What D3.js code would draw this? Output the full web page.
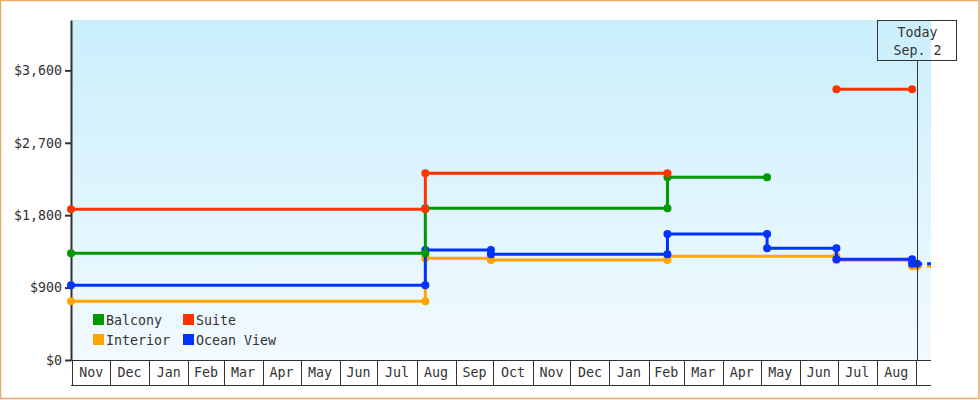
<!DOCTYPE html>
<html>
<head>
<meta charset="utf-8">
<script src="https://cdn.jsdelivr.net/npm/d3@7"></script>
<style>
  body { margin: 0; background: #fff; }
  text { font-family: "DejaVu Sans Mono", monospace; font-size: 13.3px; fill: #333; }
</style>
</head>
<body>
<div id="chart"></div>
<script>
// price history, one price per change date, null closes a run
const categories = ["Balcony", "Suite", "Interior", "Ocean View"];
const colors = ["#009900", "#ff3300", "#ffa500", "#0033ff"];

const balconyDates = ["2012-10-31", "2013-08-08", "2014-02-16", "2014-05-06"];
const balconyPrices = [1326, 1886, 2271, null];

const suiteDates = ["2012-10-31", "2013-08-08", "2014-02-16", "2014-06-30", "2014-08-29"];
const suitePrices = [1873, 2321, null, 3365, null];

const interiorDates = ["2012-10-31", "2013-08-08", "2013-09-29", "2014-02-16", "2014-06-30", "2014-08-29", "2014-09-02"];
const interiorPrices = [729, 1264, 1243, 1289, 1240, 1165, null];

const oceanDates = ["2012-10-31", "2013-08-08", "2013-09-29", "2014-02-16", "2014-05-06", "2014-06-30", "2014-08-29", "2014-09-02"];
const oceanPrices = [929, 1367, 1313, 1566, 1388, 1252, 1195, null];

const yTicks = [0, 900, 1800, 2700, 3600];
const today = "2014-09-02";
const dateRange = ["2012-10-31", "2014-09-13"];

const width = 980, height = 400;
const plot = { left: 71, right: 931, top: 20, bottom: 360 };
const parse = d3.timeParse("%Y-%m-%d");

const svg = d3.select("#chart").append("svg")
  .attr("width", width)
  .attr("height", height);

const x = d3.scaleTime()
  .domain(dateRange.map(parse))
  .range([plot.left, plot.right]);

const y = d3.scaleLinear()
  .domain([0, 4226])
  .range([plot.bottom, plot.top]);

// background
const grad = svg.append("defs").append("linearGradient")
  .attr("id", "bg").attr("x1", 0).attr("y1", 0).attr("x2", 0).attr("y2", 1);
grad.append("stop").attr("offset", "0%").attr("stop-color", "#caeffc");
grad.append("stop").attr("offset", "100%").attr("stop-color", "#f2faff");

svg.append("rect")
  .attr("x", 0.5).attr("y", 0.5)
  .attr("width", width - 1.5).attr("height", height - 2)
  .attr("fill", "#fff").attr("stroke", "#e9aa66").attr("stroke-width", 1.5);

svg.append("rect")
  .attr("x", plot.left).attr("y", plot.top)
  .attr("width", plot.right - plot.left).attr("height", plot.bottom - plot.top)
  .attr("fill", "url(#bg)");

// month cells under the plot
const months = d3.timeMonth.range(d3.timeMonth.ceil(x.domain()[0]), x.domain()[1]);
const xAxis = svg.append("g").attr("stroke", "#333").attr("stroke-width", 1);
xAxis.append("line")
  .attr("x1", plot.left).attr("x2", plot.right)
  .attr("y1", plot.bottom + 0.5).attr("y2", plot.bottom + 0.5);
xAxis.append("line")
  .attr("x1", plot.left).attr("x2", plot.right)
  .attr("y1", plot.bottom + 25.5).attr("y2", plot.bottom + 25.5);
xAxis.selectAll("line.div")
  .data(months)
  .join("line")
    .attr("class", "div")
    .attr("x1", d => Math.round(x(d)) + 0.5)
    .attr("x2", d => Math.round(x(d)) + 0.5)
    .attr("y1", plot.bottom)
    .attr("y2", plot.bottom + 25);
svg.append("g")
  .selectAll("text")
  .data(months.filter(d => d3.timeMonth.offset(d, 1) <= x.domain()[1]))
  .join("text")
    .attr("x", d => (x(d) + x(d3.timeMonth.offset(d, 1))) / 2)
    .attr("y", plot.bottom + 17)
    .attr("text-anchor", "middle")
    .text(d3.timeFormat("%b"));

// y axis
const yAxis = svg.append("g")
  .attr("transform", `translate(${plot.left},0)`)
  .call(d3.axisLeft(y)
    .tickValues(yTicks)
    .tickSize(6)
    .tickSizeOuter(0)
    .tickPadding(3)
    .tickFormat(d => "$" + d3.format(",")(d)));
yAxis.select(".domain").attr("stroke", "#333").attr("stroke-width", 2);
yAxis.selectAll(".tick line").attr("stroke", "#333").attr("stroke-width", 2);
yAxis.selectAll(".tick text")
  .attr("fill", "#333")
  .style("font-family", '"DejaVu Sans Mono", monospace')
  .style("font-size", "13.3px");
yAxis.attr("font-family", null).attr("font-size", null);

// series
const series = [
  { name: categories[2], color: colors[2], dates: interiorDates, prices: interiorPrices },
  { name: categories[3], color: colors[3], dates: oceanDates, prices: oceanPrices },
  { name: categories[0], color: colors[0], dates: balconyDates, prices: balconyPrices },
  { name: categories[1], color: colors[1], dates: suiteDates, prices: suitePrices }
];

function runsOf(s) {
  const runs = [];
  let run = null;
  for (let i = 0; i < s.dates.length - 1; i++) {
    if (s.prices[i] == null) continue;
    if (!run) run = [];
    run.push({ d: parse(s.dates[i]), p: s.prices[i] });
    if (s.prices[i + 1] == null) {
      run.push({ d: parse(s.dates[i + 1]), p: s.prices[i] });
      runs.push(run);
      run = null;
    }
  }
  return runs;
}

const line = d3.line()
  .x(d => x(d.d))
  .y(d => y(d.p))
  .curve(d3.curveStepAfter);

const todayDate = parse(today);

series.forEach(s => {
  const g = svg.append("g");
  const runs = runsOf(s);

  g.selectAll("path.run")
    .data(runs)
    .join("path")
      .attr("class", "run")
      .attr("d", line)
      .attr("fill", "none")
      .attr("stroke", s.color)
      .attr("stroke-width", 3);

  // projection past today
  const last = runs[runs.length - 1];
  const end = last[last.length - 1];
  if (+end.d === +todayDate) {
    g.append("path")
      .attr("d", line([end, { d: x.domain()[1], p: end.p }]))
      .attr("fill", "none")
      .attr("stroke", s.color)
      .attr("stroke-width", 3)
      .attr("stroke-dasharray", "5,5");
  }

  const dots = [];
  runs.forEach(r => {
    for (let i = 0; i < r.length - 1; i++) {
      dots.push({ d: r[i].d, p: r[i].p });
      dots.push({ d: r[i + 1].d, p: r[i].p });
    }
  });
  g.selectAll("circle")
    .data(dots)
    .join("circle")
      .attr("cx", d => x(d.d))
      .attr("cy", d => y(d.p))
      .attr("r", 4)
      .attr("fill", s.color);
});

// today marker
const tx = Math.round(x(todayDate)) + 0.5;
svg.append("line")
  .attr("x1", tx).attr("x2", tx)
  .attr("y1", 60).attr("y2", plot.bottom)
  .attr("stroke", "#333").attr("stroke-width", 1);
svg.append("rect")
  .attr("x", tx - 40).attr("y", 20.5)
  .attr("width", 79).attr("height", 40)
  .attr("fill", "none").attr("stroke", "#333").attr("stroke-width", 1);
svg.append("text")
  .attr("x", tx).attr("y", 36.5)
  .attr("text-anchor", "middle")
  .text("Today");
svg.append("text")
  .attr("x", tx).attr("y", 54.5)
  .attr("text-anchor", "middle")
  .text(d3.timeFormat("%b. %-d")(todayDate));

// legend
const legend = svg.append("g").attr("transform", "translate(93,314)");
const item = legend.selectAll("g")
  .data(categories)
  .join("g")
    .attr("transform", (d, i) => `translate(${(i % 2) * 90},${Math.floor(i / 2) * 20})`);
item.append("rect")
  .attr("width", 11).attr("height", 11)
  .attr("fill", (d, i) => colors[i]);
item.append("text")
  .attr("x", 13).attr("y", 10.5)
  .text(d => d);
</script>
</body>
</html>
